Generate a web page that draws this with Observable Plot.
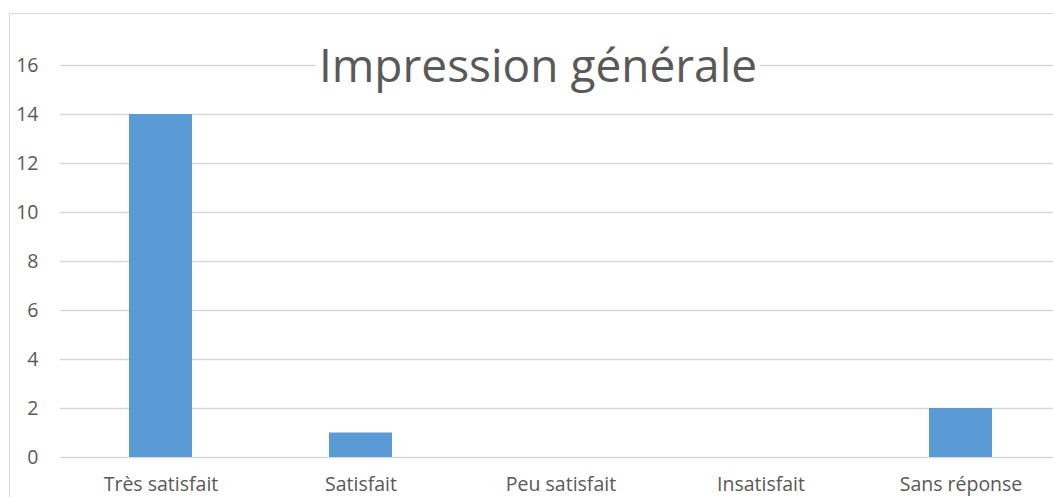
<!DOCTYPE html>
<html>
<head>
<meta charset="utf-8">
<script src="https://cdn.jsdelivr.net/npm/d3@7"></script>
<script src="https://cdn.jsdelivr.net/npm/@observablehq/plot@0.6"></script>
<style>
  html, body { margin: 0; padding: 0; background: #fff; overflow: hidden; }
  #wrap { position: relative; width: 1053px; height: 497px; }
  #border { position: absolute; left: 9px; top: 13px; width: 1100px; height: 600px;
            border-left: 1.5px solid #d9d9d9; border-top: 1.5px solid #d9d9d9; box-sizing: border-box; }
  #title { position: absolute; left: 538px; top: 37px; transform: translateX(-50%);
           font-family: "Open Sans", sans-serif; font-size: 46px; color: #595959;
           background: #fff; padding: 0 3px; white-space: nowrap; line-height: 1.2; }
  #chart { position: absolute; left: 0; top: 0; }
</style>
</head>
<body>
<div id="wrap">
  <div id="border"></div>
  <div id="chart"></div>
  <div id="title">Impression générale</div>
</div>
<script>
const categories = ["Très satisfait", "Satisfait", "Peu satisfait", "Insatisfait", "Sans réponse"];
const values = [14, 1, 0, 0, 2];
const yTicks = [0, 2, 4, 6, 8, 10, 12, 14, 16];

const data = categories.map((c, i) => ({category: c, value: values[i]}));

const chart = Plot.plot({
  width: 1053,
  height: 497,
  marginLeft: 60,
  marginRight: 0,
  marginTop: 65,
  marginBottom: 40,
  style: {fontFamily: "'Open Sans', sans-serif", color: "#595959", background: "transparent"},
  x: {domain: categories, range: [60, 1060], paddingInner: 0.685, paddingOuter: 0.3425, label: null},
  y: {domain: [0, 16], label: null},
  marks: [
    Plot.ruleY(yTicks, {stroke: "#d9d9d9", strokeWidth: 1.3}),
    Plot.barY(data, {x: "category", y: "value", fill: "#5B9BD5"}),
    Plot.axisY({ticks: yTicks, tickSize: 0, tickPadding: 22, fontSize: 19.5, fill: "#595959", label: null}),
    Plot.axisX({tickSize: 0, tickPadding: 20, fontSize: 19.5, fill: "#595959", label: null})
  ]
});
document.getElementById("chart").appendChild(chart);
</script>
</body>
</html>
